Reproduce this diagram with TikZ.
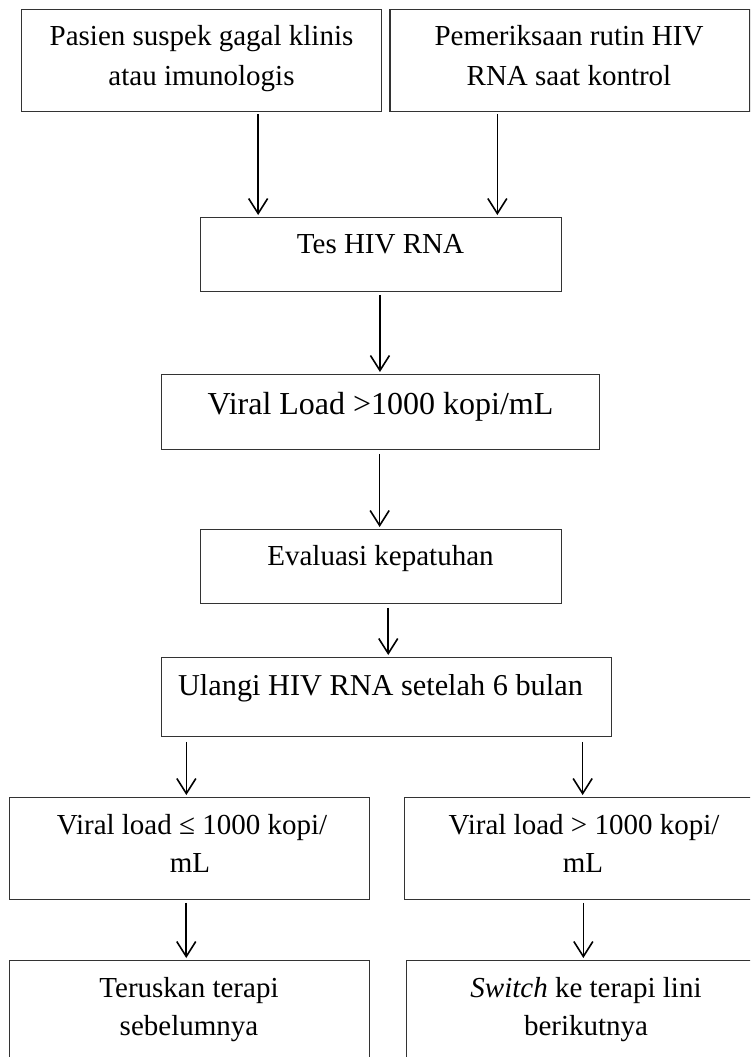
\documentclass[tikz,border=0pt]{standalone}
\usepackage{fontspec}
\setmainfont{Liberation Serif}
\usetikzlibrary{arrows.meta}
\begin{document}
\begin{tikzpicture}[x=1pt,y=-1pt,
  box/.style={draw=black!80, line width=1.3pt, inner sep=0pt, anchor=north west},
  txt/.style={inner sep=0pt, anchor=base, font=\fontsize{29}{35}\selectfont},
  arr/.style={line width=1.6pt, -{Straight Barb[length=15pt,width=19pt,line width=1.6pt]}}]
\clip (0,0) rectangle (750,1057);
\fill[white] (0,0) rectangle (750,1057);
% boxes
\node[box, minimum width=360pt, minimum height=101.7pt] (A) at (20.7,9) {};
\node[box, minimum width=360pt, minimum height=101.7pt] (B) at (389.3,9) {};
\node[box, minimum width=361pt, minimum height=74pt] (Tes) at (200,217) {};
\node[box, minimum width=438pt, minimum height=75pt] (VL) at (161,374) {};
\node[box, minimum width=361pt, minimum height=74pt] (Ev) at (200,529) {};
\node[box, minimum width=450pt, minimum height=79pt] (Ul) at (161,657) {};
\node[box, minimum width=360.4pt, minimum height=102pt] (L1) at (8.6,797) {};
\node[box, minimum width=362pt, minimum height=102pt] (R1) at (403.7,797) {};
\node[box, minimum width=360.4pt, minimum height=120pt] (L2) at (8.6,960) {};
\node[box, minimum width=360pt, minimum height=120pt] (R2) at (406,960) {};
% texts
\node[txt] (ta1) at (201.5,46) {Pasien suspek gagal klinis};
\node[txt] (ta2) at (201.5,85) {atau imunologis};
\node[txt] (tb1) at (569,46) {Pemeriksaan rutin HIV};
\node[txt] (tb2) at (569,85) {RNA saat kontrol};
\node[txt] (tt) at (380.5,253) {Tes HIV RNA};
\node[txt, font=\fontsize{32}{38}\selectfont] (tv) at (380.5,414) {Viral Load >1000 kopi/mL};
\node[txt] (te) at (380.5,565) {Evaluasi kepatuhan};
\node[txt, font=\fontsize{30.3}{36}\selectfont] (tu) at (380.5,695) {Ulangi HIV RNA setelah 6 bulan};
\node[txt] (tl1) at (192,834) {Viral load ≤ 1000 kopi/};
\node[txt] (tl2) at (190,872) {mL};
\node[txt] (tr1) at (584,834) {Viral load > 1000 kopi/};
\node[txt] (tr2) at (583,872) {mL};
\node[txt] (tl3) at (189,997) {Teruskan terapi};
\node[txt] (tl4) at (189,1035) {sebelumnya};
\node[txt] (tr3) at (586,997) {\textit{Switch} ke terapi lini};
\node[txt] (tr4) at (586,1035) {berikutnya};
% arrows
\draw[arr] ([xshift=56.8pt,yshift=-2pt]A.south) -- ([xshift=-123pt,yshift=2pt]Tes.north);
\draw[arr] ([xshift=-72.6pt,yshift=-2pt]B.south) -- ([xshift=116.2pt,yshift=2pt]Tes.north);
\draw[arr] ([xshift=-1.2pt,yshift=-2.5pt]Tes.south) -- ([xshift=-0.7pt,yshift=2pt]VL.north);
\draw[arr] ([xshift=-1pt,yshift=-3.5pt]VL.south) -- ([xshift=-1.5pt,yshift=2pt]Ev.north);
\draw[arr] ([xshift=7.1pt,yshift=-3.5pt]Ev.south) -- ([xshift=1.6pt,yshift=2pt]Ul.north);
\draw[arr] ([xshift=-200.3pt,yshift=-4.5pt]Ul.south) -- ([xshift=-3.1pt,yshift=2pt]L1.north);
\draw[arr] ([xshift=196pt,yshift=-4.5pt]Ul.south) -- ([xshift=-2.7pt,yshift=2pt]R1.north);
\draw[arr] ([xshift=-3.2pt,yshift=-2.5pt]L1.south) -- ([xshift=-3.2pt,yshift=2pt]L2.north);
\draw[arr] ([xshift=-2pt,yshift=-2.5pt]R1.south) -- ([xshift=-3.3pt,yshift=2pt]R2.north);
\end{tikzpicture}
\end{document}
